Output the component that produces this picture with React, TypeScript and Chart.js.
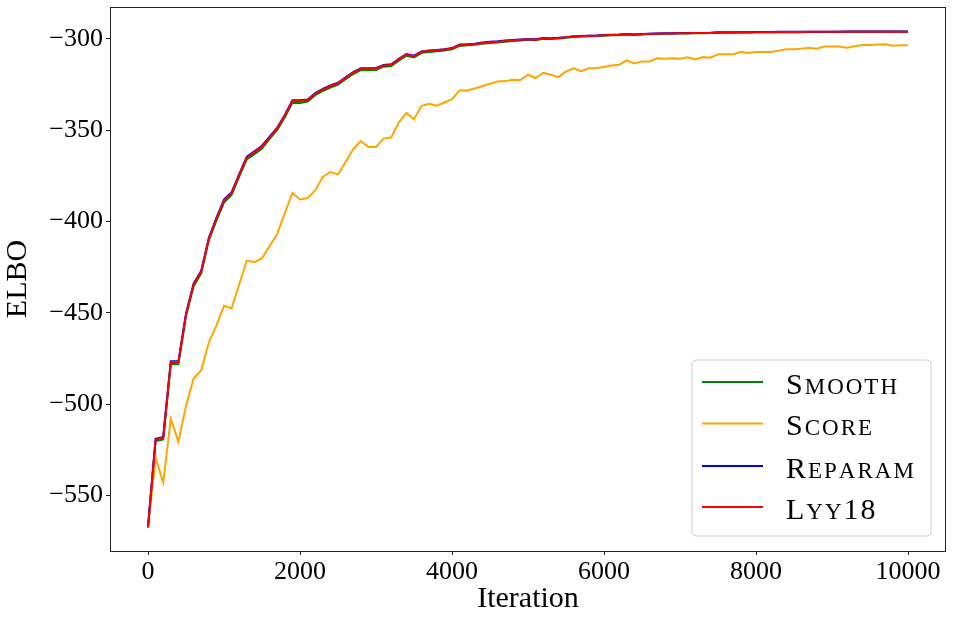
import { useEffect, useRef } from 'react';
import { Chart, registerables } from 'chart.js';
Chart.register(...registerables);

const iterations = [
  0, 100, 200, 300, 400, 500, 600, 700, 800, 900,
  1000, 1100, 1200, 1300, 1400, 1500, 1600, 1700, 1800, 1900,
  2000, 2100, 2200, 2300, 2400, 2500, 2600, 2700, 2800, 2900,
  3000, 3100, 3200, 3300, 3400, 3500, 3600, 3700, 3800, 3900,
  4000, 4100, 4200, 4300, 4400, 4500, 4600, 4700, 4800, 4900,
  5000, 5100, 5200, 5300, 5400, 5500, 5600, 5700, 5800, 5900,
  6000, 6100, 6200, 6300, 6400, 6500, 6600, 6700, 6800, 6900,
  7000, 7100, 7200, 7300, 7400, 7500, 7600, 7700, 7800, 7900,
  8000, 8100, 8200, 8300, 8400, 8500, 8600, 8700, 8800, 8900,
  9000, 9100, 9200, 9300, 9400, 9500, 9600, 9700, 9800, 9900,
  10000,
];

const lyy18 = [
  -567.5, -519.5, -518.5, -477.0, -477.0, -451.0, -434.5, -427.5, -409.5, -398.5,
  -388.5, -384.5, -374.5, -365.0, -362.0, -359.0, -354.0, -349.0, -342.0, -334.0,
  -334.0, -333.5, -330.0, -327.7, -325.8, -324.3, -321.3, -318.5, -316.3, -316.4,
  -316.2, -314.5, -314.2, -311.2, -308.6, -309.5, -307.0, -306.5, -306.2, -305.8,
  -305.2, -303.3, -303.1, -302.8, -302.2, -301.8, -301.5, -301.1, -300.8, -300.5,
  -300.1, -300.4, -299.6, -299.7, -299.5, -299.1, -298.6, -298.5, -298.3, -298.2,
  -298.0, -297.8, -297.7, -297.4, -297.6, -297.4, -297.2, -297.1, -297.0, -297.0,
  -296.9, -296.9, -296.8, -296.8, -296.7, -296.5, -296.5, -296.5, -296.4, -296.4,
  -296.3, -296.3, -296.3, -296.2, -296.2, -296.2, -296.2, -296.1, -296.1, -296.1,
  -296.1, -296.1, -296.0, -296.0, -296.0, -296.0, -296.0, -296.0, -296.0, -296.0,
  -296.0,
];

const smooth = [
  -567.5, -520.3, -519.4, -478.0, -478.2, -451.8, -435.5, -428.4, -410.3, -399.5,
  -389.6, -385.4, -375.4, -366.0, -363.1, -360.0, -354.8, -349.8, -342.9, -335.0,
  -335.1, -334.3, -330.8, -328.5, -326.6, -325.0, -322.0, -319.2, -317.1, -317.2,
  -317.0, -315.2, -314.9, -311.9, -309.2, -310.1, -307.6, -307.1, -306.8, -306.3,
  -305.7, -303.8, -303.5, -303.2, -302.6, -302.2, -301.9, -301.5, -301.1, -300.8,
  -300.4, -300.7, -299.9, -300.0, -299.8, -299.3, -298.9, -298.7, -298.5, -298.4,
  -298.2, -298.0, -297.9, -297.6, -297.7, -297.5, -297.3, -297.2, -297.1, -297.1,
  -297.0, -297.0, -296.9, -296.9, -296.8, -296.6, -296.6, -296.6, -296.5, -296.5,
  -296.4, -296.4, -296.4, -296.3, -296.3, -296.3, -296.3, -296.2, -296.2, -296.2,
  -296.2, -296.1, -296.1, -296.1, -296.1, -296.1, -296.0, -296.0, -296.0, -296.0,
  -296.0,
];

const reparam = [
  -567.5, -519.0, -518.0, -476.5, -476.6, -450.4, -434.0, -427.0, -409.0, -398.0,
  -388.0, -384.0, -374.0, -364.5, -361.5, -358.5, -353.5, -348.6, -341.6, -333.6,
  -333.6, -333.2, -329.7, -327.4, -325.5, -324.0, -321.0, -318.2, -316.0, -316.1,
  -315.9, -314.2, -313.9, -310.9, -308.3, -309.2, -306.8, -306.3, -306.0, -305.6,
  -305.0, -303.1, -302.9, -302.6, -302.0, -301.6, -301.3, -300.9, -300.6, -300.3,
  -300.0, -300.2, -299.5, -299.6, -299.4, -299.0, -298.5, -298.4, -298.2, -298.1,
  -297.9, -297.7, -297.6, -297.3, -297.5, -297.3, -297.1, -297.0, -296.9, -296.9,
  -296.8, -296.8, -296.7, -296.7, -296.6, -296.4, -296.4, -296.4, -296.3, -296.3,
  -296.2, -296.2, -296.2, -296.1, -296.1, -296.1, -296.1, -296.0, -296.0, -296.0,
  -296.0, -296.0, -295.9, -295.9, -295.9, -295.9, -295.9, -295.9, -295.9, -295.9,
  -295.9,
];

const score = [
  -567.5, -529.5, -543.0, -508.0, -520.7, -501.0, -486.0, -481.5, -466.3, -457.0,
  -446.2, -447.6, -434.5, -421.4, -422.3, -420.1, -413.5, -406.8, -395.6, -384.4,
  -387.9, -387.2, -383.0, -375.6, -372.9, -374.2, -367.4, -360.4, -356.0, -359.2,
  -359.2, -354.6, -354.0, -345.8, -340.5, -344.0, -336.6, -335.5, -336.6, -334.8,
  -333.0, -328.2, -328.2, -327.1, -325.8, -324.5, -323.3, -323.1, -322.4, -322.5,
  -319.6, -321.4, -318.5, -319.6, -320.9, -317.8, -316.1, -317.6, -316.1, -315.9,
  -315.4, -314.6, -314.1, -311.7, -313.4, -312.3, -312.3, -310.6, -310.8, -310.6,
  -310.8, -310.1, -311.2, -309.9, -310.3, -308.4, -308.4, -308.4, -307.0, -307.7,
  -307.1, -307.1, -307.1, -306.4, -305.7, -305.7, -305.3, -304.8, -305.3, -304.2,
  -304.2, -304.2, -304.8, -304.0, -303.3, -303.3, -303.1, -302.9, -303.7, -303.5,
  -303.5,
];

const seriesNames = ['Smooth', 'Score', 'Reparam', 'Lyy18'];
const seriesColors = ['#008000', '#ffa500', '#0000ff', '#ff0000'];
const xTickValues = [0, 2000, 4000, 6000, 8000, 10000];
const yTickValues = [-550, -500, -450, -400, -350, -300];
const xTitle = 'Iteration';
const yTitle = 'ELBO';

const FONT = "'Liberation Serif', 'DejaVu Serif', serif";

function drawSmallCaps(ctx: CanvasRenderingContext2D, text: string, x: number, y: number, big: number, small: number, spacing: number) {
  let cx = x;
  for (const ch of text) {
    const isSmall = ch >= 'a' && ch <= 'z';
    ctx.font = `${isSmall ? small : big}px ${FONT}`;
    const c = isSmall ? ch.toUpperCase() : ch;
    ctx.fillText(c, cx, y);
    cx += ctx.measureText(c).width + spacing;
  }
}

const framePlugin = {
  id: 'frame',
  afterDatasetsDraw(chart: any) {
    const { ctx, chartArea } = chart;
    ctx.save();
    ctx.strokeStyle = '#222';
    ctx.lineWidth = 1;
    ctx.strokeRect(Math.round(chartArea.left) + 0.5, Math.round(chartArea.top) + 0.5,
      Math.round(chartArea.right - chartArea.left) - 1, Math.round(chartArea.bottom - chartArea.top));
    ctx.restore();
  },
};

const legendPlugin = {
  id: 'customLegend',
  afterDraw(chart: any) {
    const { ctx, chartArea } = chart;
    const w = 239;
    const h = 176;
    const x0 = chartArea.right - 15 - w;
    const y0 = chartArea.bottom - 15 - h;
    ctx.save();
    ctx.beginPath();
    const r = 4;
    ctx.moveTo(x0 + r, y0);
    ctx.lineTo(x0 + w - r, y0);
    ctx.arcTo(x0 + w, y0, x0 + w, y0 + r, r);
    ctx.lineTo(x0 + w, y0 + h - r);
    ctx.arcTo(x0 + w, y0 + h, x0 + w - r, y0 + h, r);
    ctx.lineTo(x0 + r, y0 + h);
    ctx.arcTo(x0, y0 + h, x0, y0 + h - r, r);
    ctx.lineTo(x0, y0 + r);
    ctx.arcTo(x0, y0, x0 + r, y0, r);
    ctx.closePath();
    ctx.fillStyle = 'rgba(255,255,255,0.85)';
    ctx.fill();
    ctx.strokeStyle = '#d0d0d0';
    ctx.lineWidth = 1;
    ctx.stroke();
    const rowYs = [22, 63.5, 106, 147];
    seriesNames.forEach((name, i) => {
      const ly = y0 + rowYs[i];
      ctx.beginPath();
      ctx.moveTo(x0 + 10, ly);
      ctx.lineTo(x0 + 71, ly);
      ctx.strokeStyle = seriesColors[i];
      ctx.lineWidth = 2;
      ctx.stroke();
      ctx.fillStyle = '#000';
      ctx.textBaseline = 'alphabetic';
      ctx.textAlign = 'left';
      drawSmallCaps(ctx, name, x0 + 94, ly + 11.5, 30, 23, 2);
    });
    ctx.restore();
  },
};

export default function App() {
  const ref = useRef<HTMLCanvasElement>(null);
  useEffect(() => {
    if (!ref.current) return;
    const allSeries = [smooth, score, reparam, lyy18];
    const chart = new Chart(ref.current, {
      type: 'line',
      data: {
        datasets: allSeries.map((vals, i) => ({
          label: seriesNames[i],
          data: vals.map((v, j) => ({ x: iterations[j], y: v })),
          borderColor: seriesColors[i],
          backgroundColor: seriesColors[i],
          borderWidth: 2,
          pointRadius: 0,
          tension: 0,
          fill: false,
          order: 4 - i,
        })),
      },
      options: {
        animation: false,
        responsive: false,
        devicePixelRatio: 1,
        layout: { padding: { top: 7, right: 7, left: 0, bottom: 0 } },
        plugins: {
          legend: { display: false },
          tooltip: { enabled: false },
        },
        scales: {
          x: {
            type: 'linear',
            min: -500,
            max: 10500,
            afterBuildTicks: (scale: any) => {
              scale.ticks = xTickValues.map((v) => ({ value: v }));
            },
            afterFit: (scale: any) => {
              scale.height = 71;
              scale.paddingLeft = 0;
              scale.paddingRight = 0;
            },
            grid: { display: true, drawOnChartArea: false, drawTicks: true, tickLength: 4, color: '#222' },
            border: { display: false },
            ticks: {
              color: '#000',
              font: { family: FONT, size: 26 },
              padding: 2,
              maxRotation: 0,
              autoSkip: false,
              callback: (v: any) => String(v),
            },
            title: {
              display: true,
              text: xTitle,
              color: '#000',
              font: { family: FONT, size: 30, lineHeight: 1.2 },
              padding: { top: 0, bottom: 5 },
            },
          },
          y: {
            type: 'linear',
            min: -580.5,
            max: -282.5,
            afterBuildTicks: (scale: any) => {
              scale.ticks = yTickValues.map((v) => ({ value: v }));
            },
            afterFit: (scale: any) => {
              scale.width = 110;
              scale.paddingTop = 0;
              scale.paddingBottom = 0;
            },
            grid: { display: true, drawOnChartArea: false, drawTicks: true, tickLength: 4, color: '#222' },
            border: { display: false },
            ticks: {
              color: '#000',
              font: { family: FONT, size: 26 },
              padding: 3,
              autoSkip: false,
              callback: (v: any) => (v < 0 ? '\u2212' + Math.abs(v) : String(v)),
            },
            title: {
              display: true,
              text: yTitle,
              color: '#000',
              font: { family: FONT, size: 30, lineHeight: 1.2 },
              padding: { top: 0, bottom: 0 },
            },
          },
        },
      },
      plugins: [framePlugin, legendPlugin],
    });
    return () => chart.destroy();
  }, []);
  return (
    <div style={{ position: 'absolute', left: 0, top: 0, width: 953, height: 622, background: '#fff' }}>
      <canvas ref={ref} width={953} height={622} style={{ width: 953, height: 622, display: 'block' }} />
    </div>
  );
}
